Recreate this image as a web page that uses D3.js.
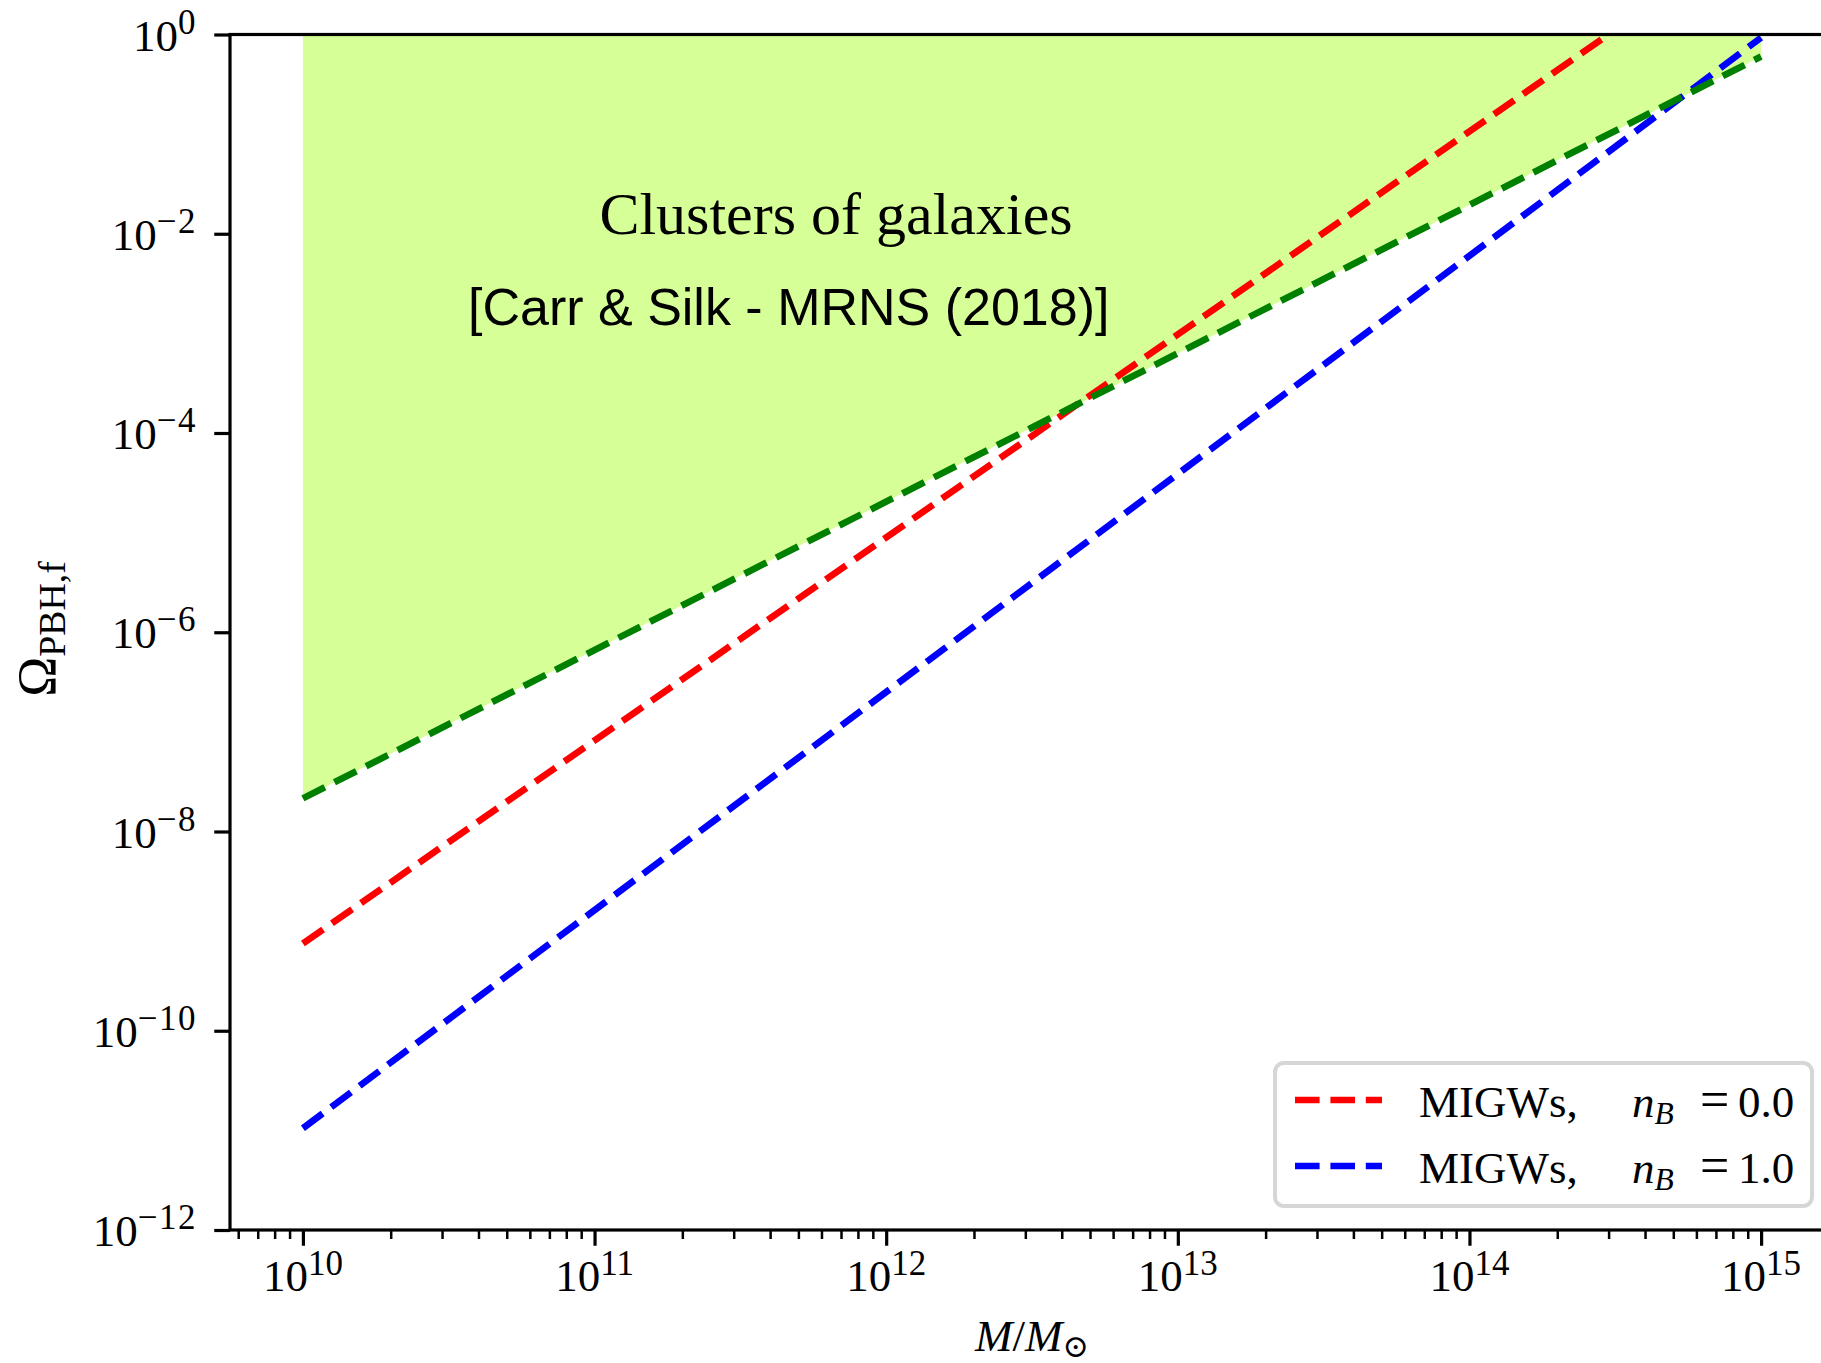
<!DOCTYPE html>
<meta charset="utf-8">
<head>
<style>
body { margin: 0; background: #ffffff; }
.serif { font-family: "Liberation Serif", "DejaVu Serif", serif; }
.sans { font-family: "Liberation Sans", Arial, sans-serif; }
</style>
</head>
<script src="https://d3js.org/d3.v7.min.js"></script>

<div id="pbh_plot"></div>

<script>
// values
var massTicks = [1e10, 1e11, 1e12, 1e13, 1e14, 1e15];
var massTickExp = ["10", "11", "12", "13", "14", "15"];
var omegaTicks = [1e0, 1e-2, 1e-4, 1e-6, 1e-8, 1e-10, 1e-12];
var omegaTickExp = ["0", "\u22122", "\u22124", "\u22126", "\u22128", "\u221210", "\u221212"];

// cluster of galaxies bound (green, shaded above)
var clusterMass = [1e10, 1e15];
var clusterOmega = [2.15e-8, 0.6];

// MIGWs, n_B = 0.0 (red) - leaves the top of the plot
var redMass = [1e10, 3.0e14];
var redOmega = [7.5e-10, 1.0];

// MIGWs, n_B = 1.0 (blue)
var blueMass = [1e10, 1e15];
var blueOmega = [1.05e-11, 0.93];

var legendValues = ["0.0", "1.0"];
var legendColors = ["#ff0000", "#0000ff"];

function pts(ms, os) { return ms.map(function(m, i) { return {m: m, o: os[i]}; }); }

var W = 1821, H = 1363;
var plotL = 230, plotR = 1834, plotT = 34.5, plotB = 1230;

var svg = d3.select("#pbh_plot")
  .append("svg")
    .attr("width", W)
    .attr("height", H);

var x = d3.scaleLog()
  .domain([Math.pow(10, 9.75), Math.pow(10, 15.25)])
  .range([plotL, plotR]);

var y = d3.scaleLog()
  .domain([1e-12, 1])
  .range([plotB, plotT]);

svg.append("clipPath").attr("id", "plotclip")
  .append("rect")
    .attr("x", plotL).attr("y", plotT)
    .attr("width", plotR - plotL).attr("height", plotB - plotT);

var plot = svg.append("g").attr("clip-path", "url(#plotclip)");

// shaded excluded region
var area = d3.area()
  .x(function(d) { return x(d.m); })
  .y0(y(1))
  .y1(function(d) { return y(d.o); });

plot.append("path")
  .datum(pts(clusterMass, clusterOmega))
  .attr("d", area)
  .attr("fill", "#adff2f")
  .attr("fill-opacity", 0.5);

var line = d3.line()
  .x(function(d) { return x(d.m); })
  .y(function(d) { return y(d.o); });

var series = [
  {data: pts(redMass, redOmega), color: "#ff0000"},
  {data: pts(blueMass, blueOmega), color: "#0000ff"},
  {data: pts(clusterMass, clusterOmega), color: "#008000"}
];

series.forEach(function(s) {
  plot.append("path")
    .datum(s.data)
    .attr("d", line)
    .attr("fill", "none")
    .attr("stroke", s.color)
    .attr("stroke-width", 6.7)
    .attr("stroke-dasharray", "24.6 10.8");
});

// ---- axes ----
var minorX = [];
for (var k = 9; k <= 15; k++) {
  for (var j = 2; j <= 9; j++) {
    var v = j * Math.pow(10, k);
    if (v >= x.domain()[0] && v <= x.domain()[1]) minorX.push(v);
  }
}

var xAxis = svg.append("g")
  .attr("transform", "translate(0," + plotB + ")")
  .call(d3.axisBottom(x).tickValues(massTicks).tickSize(15.75).tickSizeOuter(0).tickFormat(""));
var xMinor = svg.append("g")
  .attr("transform", "translate(0," + plotB + ")")
  .call(d3.axisBottom(x).tickValues(minorX).tickSize(9).tickSizeOuter(0).tickFormat(""));
var yAxis = svg.append("g")
  .attr("transform", "translate(" + plotL + ",0)")
  .call(d3.axisLeft(y).tickValues(omegaTicks).tickSize(15.75).tickSizeOuter(0).tickFormat(""));

[xAxis, xMinor, yAxis].forEach(function(g) { g.select(".domain").remove(); });
xAxis.selectAll("line").attr("stroke", "#000").attr("stroke-width", 3.2);
yAxis.selectAll("line").attr("stroke", "#000").attr("stroke-width", 3.2);
xMinor.selectAll("line").attr("stroke", "#000").attr("stroke-width", 2.5);

// frame
svg.append("rect")
  .attr("x", plotL).attr("y", plotT)
  .attr("width", plotR - plotL).attr("height", plotB - plotT)
  .attr("fill", "none")
  .attr("stroke", "#000")
  .attr("stroke-width", 3.2);

// tick labels with superscripts
svg.append("g").selectAll("text")
  .data(massTicks)
  .enter()
  .append("text")
    .attr("class", "serif")
    .attr("x", function(d) { return x(d); })
    .attr("y", 1291)
    .attr("text-anchor", "middle")
    .attr("font-size", 45)
    .each(function(d, i) {
      var t = d3.select(this);
      t.append("tspan").text("10");
      t.append("tspan").attr("font-size", 35).attr("dy", -16).text(massTickExp[i]);
    });

svg.append("g").selectAll("text")
  .data(omegaTicks)
  .enter()
  .append("text")
    .attr("class", "serif")
    .attr("x", 197)
    .attr("y", function(d) { return y(d) + 16; })
    .attr("text-anchor", "end")
    .attr("font-size", 45)
    .each(function(d, i) {
      var t = d3.select(this);
      t.append("tspan").text("10");
      t.append("tspan").attr("font-size", 35).attr("dy", -17)
        .attr("letter-spacing", 1.5).text(omegaTickExp[i]);
    });

// axis labels
var xl = svg.append("text")
  .attr("class", "serif")
  .attr("x", (plotL + plotR) / 2)
  .attr("y", 1351)
  .attr("text-anchor", "middle")
  .attr("font-size", 45);
xl.append("tspan").attr("font-style", "italic").text("M");
xl.append("tspan").text("/");
xl.append("tspan").attr("font-style", "italic").text("M");
xl.append("tspan").attr("font-size", 31.5).attr("dy", 6).text("\u2299");

var yl = svg.append("text")
  .attr("class", "serif")
  .attr("transform", "translate(55,629) rotate(-90)")
  .attr("text-anchor", "middle")
  .attr("font-size", 54);
yl.append("tspan").text("\u03A9");
yl.append("tspan").attr("font-size", 37.8).attr("dy", 10).text("PBH,f");

// annotations
svg.append("text")
  .attr("class", "serif")
  .attr("x", 836)
  .attr("y", 234)
  .attr("text-anchor", "middle")
  .attr("font-size", 60)
  .text("Clusters of galaxies");

svg.append("text")
  .attr("class", "sans")
  .attr("x", 468)
  .attr("y", 325)
  .attr("font-size", 52)
  .text("[Carr & Silk - MRNS (2018)]");

// legend
var leg = svg.append("g");
leg.append("rect")
  .attr("x", 1275).attr("y", 1063)
  .attr("width", 537).attr("height", 143)
  .attr("rx", 9)
  .attr("fill", "#ffffff")
  .attr("fill-opacity", 0.8)
  .attr("stroke", "#d6d6d6")
  .attr("stroke-width", 4);

legendValues.forEach(function(val, i) {
  var cy = 1100 + i * 66;
  leg.append("line")
    .attr("x1", 1295).attr("x2", 1382)
    .attr("y1", cy).attr("y2", cy)
    .attr("stroke", legendColors[i])
    .attr("stroke-width", 6.7)
    .attr("stroke-dasharray", "24.6 10.8");
  var t = leg.append("text")
    .attr("class", "serif")
    .attr("y", cy + 17)
    .attr("font-size", 45);
  t.append("tspan").attr("x", 1419).text("MIGWs,");
  t.append("tspan").attr("x", 1632).attr("font-style", "italic").text("n");
  t.append("tspan").attr("font-style", "italic").attr("font-size", 31.5).attr("dy", 7).text("B");
  t.append("tspan").attr("x", 1700).attr("dy", -7).attr("font-size", 52).text("=");
  t.append("tspan").attr("x", 1738).text(val);
});
</script>
